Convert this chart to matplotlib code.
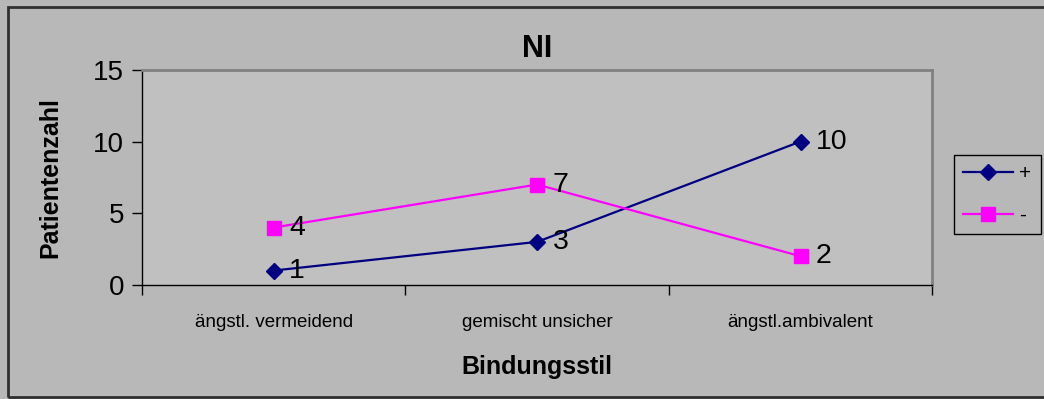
import matplotlib
matplotlib.use("Agg")
import matplotlib.pyplot as plt
from matplotlib.patches import Rectangle

categories = ["ängstl. vermeidend", "gemischt unsicher", "ängstl.ambivalent"]
plus_vals = [1, 3, 10]
minus_vals = [4, 7, 2]
y_ticks = [0, 5, 10, 15]

plt.rcParams['font.family'] = ['Liberation Sans', 'DejaVu Sans']

fig = plt.figure(figsize=(10.44, 3.99), dpi=100, facecolor="#b8b8b8")
ax = fig.add_axes([0.136, 0.286, 0.757, 0.539], facecolor="#c0c0c0")

x = list(range(len(categories)))
ax.plot(x, plus_vals, color="#000080", lw=1.6, marker="D", ms=8, label="+")
ax.plot(x, minus_vals, color="#ff00ff", lw=1.6, marker="s", ms=10, label="-")

# value labels next to each point
for xi, v in zip(x, plus_vals):
    ax.annotate(str(v), (xi, v), xytext=(11, 0), textcoords="offset points",
                va="center", ha="left", fontsize=20.5)
for xi, v in zip(x, minus_vals):
    ax.annotate(str(v), (xi, v), xytext=(11, 0), textcoords="offset points",
                va="center", ha="left", fontsize=20.5)

ax.set_xlim(-0.5, 2.5)
ax.set_ylim(0, 15)
ax.set_yticks(y_ticks)
ax.tick_params(axis="y", labelsize=20, length=7, width=1, direction="out", pad=6)
ax.set_xticks(x)
ax.set_xticklabels(categories, fontsize=13.5)
ax.tick_params(axis="x", length=0, pad=21)
ax.set_xticks([-0.5, 0.5, 1.5, 2.5], minor=True)
ax.tick_params(axis="x", which="minor", length=7, width=1, direction="out")

for side in ("top", "right"):
    ax.spines[side].set_color("#808080")
    ax.spines[side].set_linewidth(2)
for side in ("left", "bottom"):
    ax.spines[side].set_color("black")
    ax.spines[side].set_linewidth(1)

ax.set_title("NI", fontsize=22, fontweight="bold", pad=9)
ax.set_ylabel("Patientenzahl", fontsize=18, fontweight="bold", labelpad=22)
ax.set_xlabel("Bindungsstil", fontsize=18, fontweight="bold", labelpad=17)

leg = ax.legend(loc="upper left", bbox_to_anchor=(1.027, 0.605), frameon=True,
                fancybox=False, framealpha=1, facecolor="#b8b8b8",
                edgecolor="black", fontsize=15, handlelength=2.4,
                handletextpad=0.3, borderpad=0.45, borderaxespad=0,
                labelspacing=1.1)
leg.get_frame().set_linewidth(1)

# outer chart frame
fig.patches.append(Rectangle((8 / 1044, 2 / 399), 1.2, 1 - 9 / 399,
                             transform=fig.transFigure, fill=False,
                             edgecolor="#303030", lw=2))

fig.savefig("out.png", dpi=100, facecolor=fig.get_facecolor())
